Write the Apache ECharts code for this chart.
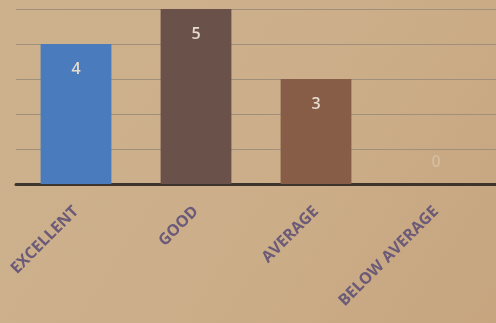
<!DOCTYPE html>
<html><head><meta charset="utf-8">
<style>html,body{margin:0;padding:0;}#c{width:496px;height:323px;}</style>
<script src="https://cdn.jsdelivr.net/npm/echarts@6/dist/echarts.min.js"></script>
</head><body><div id="c"></div>
<script>
const categories = ['EXCELLENT', 'GOOD', 'AVERAGE', 'BELOW AVERAGE'];
const values = [4, 5, 3, 0];
const barColors = ['#4a7cbd', '#6a5149', '#875d48', '#8a6a52'];

const chart = echarts.init(document.getElementById('c'));
chart.setOption({
  backgroundColor: {
    type: 'linear', x: 0, y: 0, x2: 1, y2: 1,
    colorStops: [{offset: 0, color: '#cdb18d'}, {offset: 0.5, color: '#ccaf8a'}, {offset: 1, color: '#c6a57f'}]
  },
  animation: false,
  grid: {left: 16, right: 0, top: 9, bottom: 139, containLabel: false},
  xAxis: {
    type: 'category', data: categories,
    axisLine: {lineStyle: {color: '#3d352d', width: 3}},
    axisTick: {show: false},
    axisLabel: {rotate: 45, interval: 0, margin: 25, color: '#6b5a78', fontSize: 16, fontWeight: 'bold', fontFamily: 'Open Sans'}
  },
  yAxis: {
    type: 'value', min: 0, max: 5, interval: 1,
    axisLabel: {show: false}, axisLine: {show: false}, axisTick: {show: false},
    splitLine: {lineStyle: {color: '#a08f7a', width: 1.2}}
  },
  series: [{
    type: 'bar', barWidth: '59%',
    data: values.map((v, i) => ({
      value: v,
      itemStyle: {color: barColors[i]},
      label: v === 0 ? {position: 'top', distance: 14, color: '#d4bd9f'} : {}
    })),
    label: {show: true, position: 'insideTop', distance: 17, color: '#e6dccd', fontSize: 16, fontWeight: 600, fontFamily: 'Open Sans'}
  }]
});
</script></body></html>
